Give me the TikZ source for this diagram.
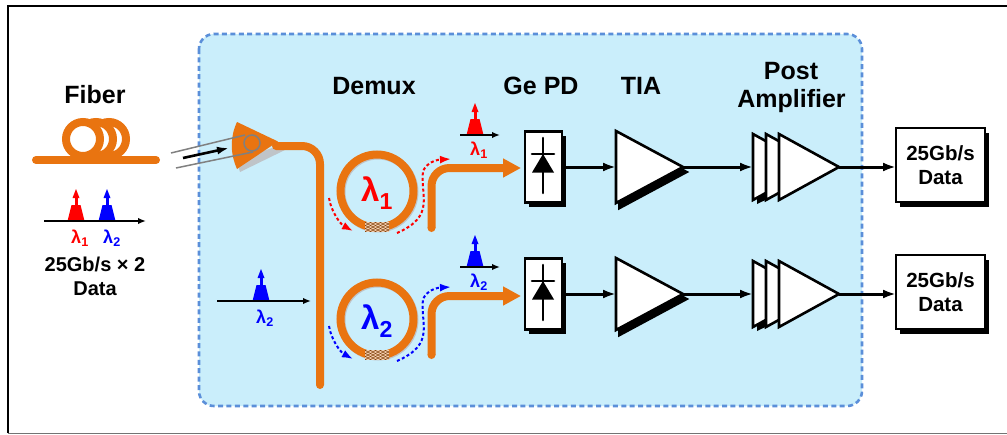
\documentclass[tikz,border=0pt]{standalone}
\usepackage{fontspec}
\setmainfont{Liberation Sans}
\usetikzlibrary{arrows.meta,shapes.geometric,shadows}
\definecolor{panelfill}{HTML}{CAEEFB}
\definecolor{paneledge}{HTML}{5B8FD9}
\definecolor{wg}{HTML}{E97410}
\definecolor{ringshade}{HTML}{BFC4C8}
\definecolor{grat}{HTML}{F3CDAE}
\definecolor{redc}{HTML}{FF0000}
\definecolor{bluec}{HTML}{0000FF}
\tikzset{
  wire/.style={line width=3pt,-{Latex[length=13pt,width=9pt]},black},
  axisline/.style={line width=2.8pt,-{Latex[length=8pt,width=6.5pt]},black},
  wgline/.style={line width=8pt,wg,line cap=round},
  boxshadow/.style={general shadow={shadow xshift=4pt,shadow yshift=-4.5pt,fill=black}},
  blockbox/.style={draw=black,fill=white,line width=2.6pt,rectangle,boxshadow,inner sep=0pt,outer sep=0pt,align=center,font=\bfseries\fontsize{20.5}{24.5}\selectfont},
  ampl/.style={draw=black,fill=white,line width=2.6pt,isosceles triangle,isosceles triangle stretches,inner sep=0pt,outer sep=0pt,anchor=apex},
  amplshadow/.style={general shadow={shadow xshift=3.5pt,shadow yshift=-5pt,fill=black,draw=black}},
  hdr/.style={font=\bfseries\fontsize{25}{29}\selectfont,inner sep=0pt,align=center},
  lam/.style={font=\bfseries\fontsize{18}{20}\selectfont,inner sep=0pt},
  biglam/.style={font=\bfseries\fontsize{33}{36}\selectfont,inner sep=0pt},
  dashr/.style={line width=2pt,dash pattern=on 3pt off 2.4pt,-{Latex[length=11pt,width=8pt,sep=0pt]}},
}
\newcommand{\peak}[3]{% centre x, axis y, colour
  \fill[#3] (#1-8.5,#2) -- (#1-4.5,#2-16) -- (#1+4.5,#2-16) -- (#1+8.5,#2) -- cycle;
  \fill[#3] (#1-1.5,#2-15) rectangle (#1+1.5,#2-26);
  \fill[#3] (#1,#2-32) -- (#1+3.5,#2-23) -- (#1-3.5,#2-23) -- cycle;
}
\newcommand{\demuxring}[6]{% name, cy, colour, label, sub, dy
  \draw[ringshade,line width=8pt] (378,#2+1) circle[radius=36.5];
  \node[circle,draw=wg,line width=8pt,minimum size=73pt,inner sep=0pt,outer sep=0pt] (#1) at (377,#2) {};
  \begin{scope}
    \clip (365,#2+31) rectangle (389,#2+40.5);
    \fill[grat] (360,#2+28) rectangle (394,#2+44);
    \foreach \k in {-12,-7,...,48}{
      \draw[wg!55!black,line width=.5pt] (365+\k-20,#2+30) -- ++(20,12);
      \draw[wg!55!black,line width=.5pt] (365+\k,#2+30) -- ++(-20,12);
    }
  \end{scope}
  \node[biglam,text=#3] (#1lab) at (377,#2+2) {λ\textsubscript{#5}};
  \coordinate (#1a) at (329,#2+7);
  \coordinate (#1b) at (353,#2+40);
  \coordinate (#1c) at (397,#2+42);
  \coordinate (#1d) at (451,#2-32);
  \draw[dashr,#3] (#1a) .. controls (331,#2+20) and (340,#2+33) .. (#1b);
  \draw[dashr,#3] (#1c) .. controls (436,#2+25) and (420,#2+5) .. (423,#2-20) .. controls (425,#2-25) and (432,#2-31) .. (#1d);
}
\begin{document}
\begin{tikzpicture}[x=1pt,y=-1pt]
\useasboundingbox (0,0) rectangle (1007,434);
\fill[white] (0,0) rectangle (1007,434);
\draw[black,line width=2.8pt] (8,433) -- (8,6) -- (1007,6);
\draw[black!55,line width=1.2pt] (8,433.4) -- (1007,433.4);
% panel
\draw[fill=panelfill,draw=paneledge,line width=2.6pt,dash pattern=on 5pt off 3.4pt,rounded corners=15pt] (199,34) rectangle (862,406);
% headers
\node[hdr] (hfiber) at (95,95) {Fiber};
\node[hdr] (hdemux) at (374,86) {Demux};
\node[hdr] (hpd) at (541,86) {Ge PD};
\node[hdr] (htia) at (641,86) {TIA};
\node[hdr] (hpost) at (791,71) {Post};
\node[hdr] (hamp) at (791.5,101) {Amplifier};
% fiber
\draw[wg,line width=8pt,fill=white] (109,139) circle[radius=17];
\draw[wg,line width=8pt,fill=white] (96,139) circle[radius=17];
\draw[wg,line width=8pt,fill=white] (83,139) circle[radius=17];
\coordinate (fibL) at (36,160);
\coordinate (fibR) at (156,160);
\draw[wgline] (fibL) -- (fibR);
% input spectrum
\coordinate (ax0a) at (44,221);
\coordinate (ax0b) at (146,221);
\peak{76}{221}{redc}
\peak{107}{221}{bluec}
\draw[axisline] (ax0a) -- (ax0b);
\node[lam,text=redc] (l01) at (80,238) {λ\textsubscript{1}};
\node[lam,text=bluec] (l02) at (112,238) {λ\textsubscript{2}};
\node[inner sep=0pt,align=center,font=\bfseries\fontsize{20}{24}\selectfont] (indata) at (95,276) {25Gb/s × 2\\Data};
% grating coupler
\fill[ringshade] (240,172) -- (287,149) -- (281,145) -- (236,160) -- cycle;
\fill[wg] (278,141.5) -- (237,122) .. controls (230,137) and (230,153) .. (237,169) -- cycle;
% bus
\coordinate (busA) at (276,146);
\coordinate (busB) at (320,385);
\draw[wgline,rounded corners=18pt] (busA) -- (320,146) -- (busB);
\draw[line width=1.5pt,black!50] (171,153) -- (245,135);
\draw[line width=1.5pt,black!50] (176,168) -- (253,152);
\draw[line width=1.5pt,black!50,fill=none] (252,143) circle[radius=8];
\coordinate (fa) at (183,158);
\coordinate (fb) at (229,148);
\draw[line width=2.6pt,black,-{Latex[length=12pt,width=8pt]}] (fa) -- (fb);
% rings
\demuxring{r1}{191}{redc}{}{1}{}
\demuxring{r2}{319}{bluec}{}{2}{}
% output guides
\coordinate (o1a) at (431.5,228);
\coordinate (o2a) at (431.5,355);
\coordinate (o1b) at (521,168);
\coordinate (o2b) at (521,296);
\draw[line width=8pt,wg,rounded corners=18pt,-{Triangle[length=18pt,width=18pt]}] (o1a) -- (431.5,168) -- (o1b);
\draw[line width=8pt,wg,rounded corners=18pt,-{Triangle[length=18pt,width=18pt]}] (o2a) -- (431.5,296) -- (o2b);
\fill[wg] (o1a) circle[radius=4];
\fill[wg] (o2a) circle[radius=4];
% drop spectra
\coordinate (s1a) at (460,135); \coordinate (s1b) at (500,135);
\coordinate (s2a) at (460,267); \coordinate (s2b) at (500,267);
\coordinate (s3a) at (217,301); \coordinate (s3b) at (311,301);
\peak{475}{135}{redc}
\peak{475}{267}{bluec}
\peak{261}{301}{bluec}
\draw[axisline] (s1a) -- (s1b);
\draw[axisline] (s2a) -- (s2b);
\draw[axisline] (s3a) -- (s3b);
\node[lam,text=redc] (l1) at (479,150) {λ\textsubscript{1}};
\node[lam,text=bluec] (l2) at (479,282) {λ\textsubscript{2}};
\node[lam,text=bluec] (l3) at (265,318) {λ\textsubscript{2}};
% photodiodes
\foreach \n/\y in {1/167,2/294}{
  \node[blockbox,minimum width=37pt,minimum height=71pt] (pd\n) at (543.5,\y) {};
  \coordinate (dtop\n) at (543,\y-29);
  \coordinate (dbot\n) at (543,\y+26);
  \draw[line width=2.6pt,line cap=round] (dtop\n) -- (dbot\n);
  \draw[line width=2.6pt,line cap=round] (532,\y-13) -- (554,\y-13);
  \fill (543,\y-13) -- (554,\y+5.5) -- (532,\y+5.5) -- cycle;
  \node[ampl,amplshadow,minimum width=72pt,minimum height=67pt] (tia\n) at (683,\y) {};
  \fill (757,\y+15) -- (757,\y+37) -- (780,\y+26) -- cycle;
  \node[ampl,minimum width=66pt,minimum height=60pt] (pa\n c) at (813,\y) {};
  \node[ampl,minimum width=66pt,minimum height=60pt] (pa\n b) at (826,\y) {};
  \node[ampl,minimum width=66pt,minimum height=60pt] (pa\n a) at (839,\y) {};
  \node[blockbox,minimum width=89pt,minimum height=74pt] (data\n) at (940.5,\y-2) {25Gb/s\\Data};
  \draw[wire] (pd\n.east) ++(3,0) -- (tia\n.west);
  \draw[wire] (tia\n.apex) -- (pa\n c.west);
  \draw[wire] (pa\n a.apex) -- (data\n.west |- pa\n a.apex);
}
\end{tikzpicture}
\end{document}
